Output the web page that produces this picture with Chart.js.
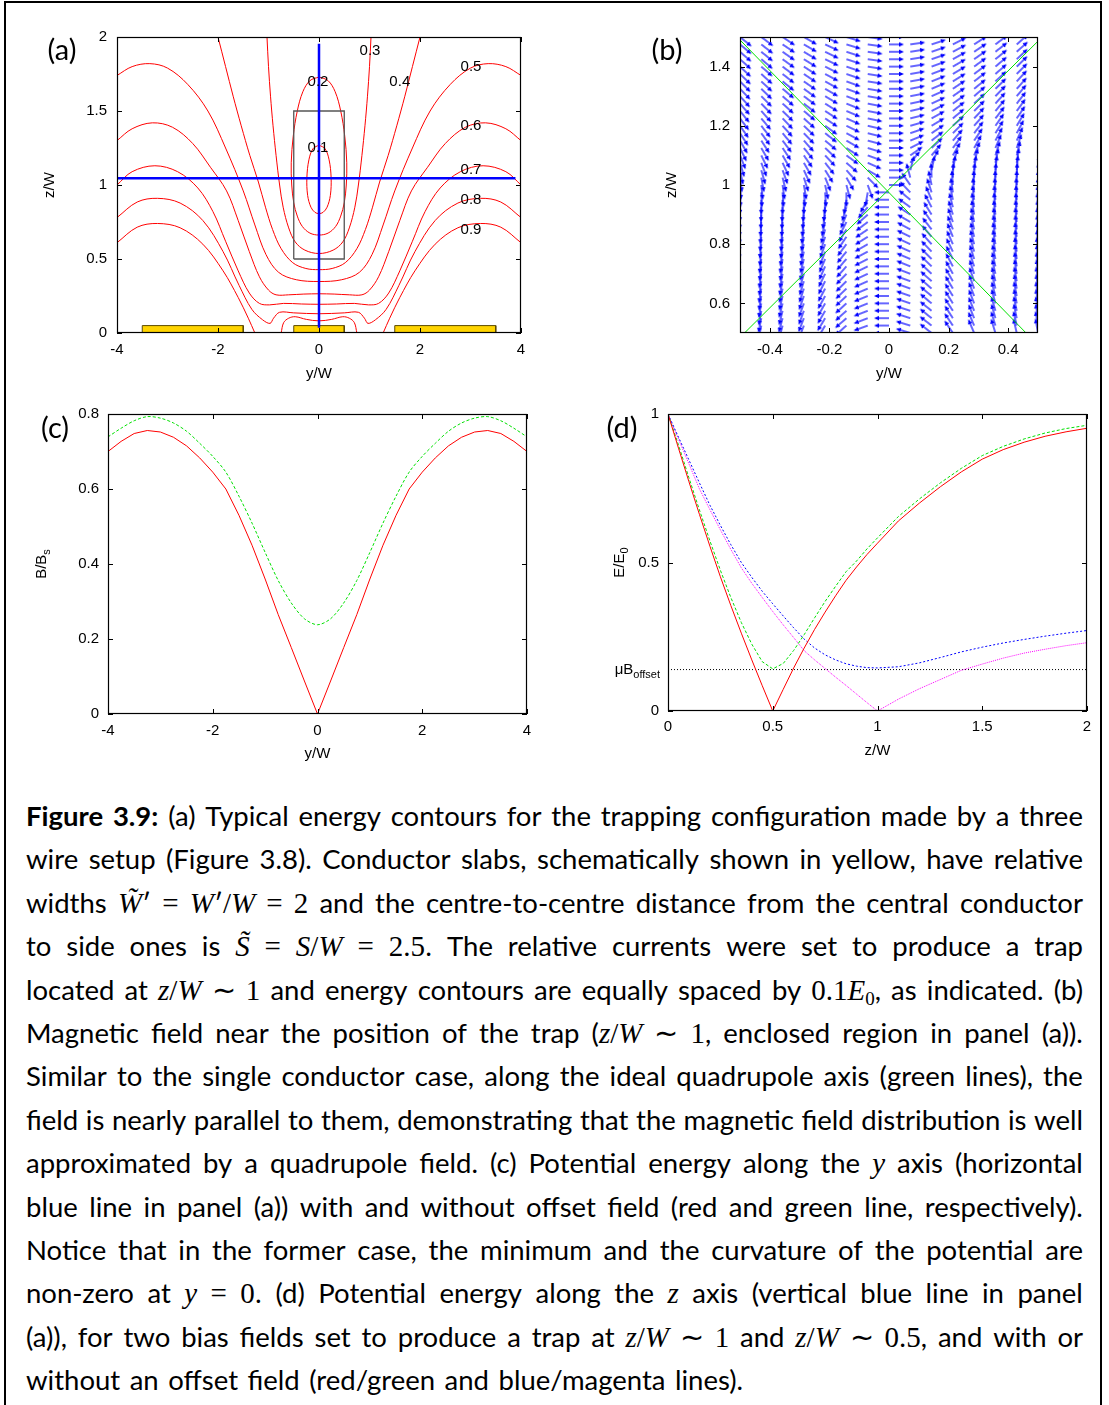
<!DOCTYPE html>
<html lang="en">
<head>
<meta charset="utf-8">
<title>Figure 3.9 – three wire trap</title>
<script src="https://cdn.jsdelivr.net/npm/chart.js@4.4.1/dist/chart.umd.min.js"></script>
<style>
  html, body { margin: 0; padding: 0; background: #fff; }
  body { position: relative; width: 1109px; height: 1405px; overflow: hidden; }
  #frame { position: absolute; left: 4px; top: 1px; width: 1098px; height: 1460px; border: 2px solid #000; box-sizing: border-box; }
  canvas { position: absolute; }
  #caption { position: absolute; left: 26px; top: 794px; width: 1057px; font-family: 'Lato', sans-serif; font-size: 27.5px; color: #000; }
  .ln { display: flex; justify-content: space-between; align-items: baseline; height: 43.4px; line-height: 43.4px; }
  .ln span.t { white-space: nowrap; }
  .ln.last { justify-content: flex-start; }
  .ln.last span.t { margin-right: 9.5px; }
  .m { font-family: 'Liberation Serif', serif; font-style: italic; font-size: 29px; }
  .r { font-family: 'Liberation Serif', serif; font-style: normal; font-size: 29px; }
  .sb { font-family: 'Liberation Serif', serif; font-size: 19px; position: relative; top: 5px; }
</style>
</head>
<body>
<div id="frame"></div>
<canvas id="pa"></canvas>
<canvas id="pb"></canvas>
<canvas id="pc"></canvas>
<canvas id="pd"></canvas>
<div id="caption"></div>
<script>
// ---------------- panel (a): energy contours, y/W vs z/W ----------------
const aTicksX = [-4, -2, 0, 2, 4];
const aTicksY = [0, 0.5, 1, 1.5, 2];
const contourNames = ['0.1', '0.2', '0.3', '0.4', '0.5', '0.6', '0.7', '0.8', '0.9'];
// each level: list of polylines of [y, z]
const cont01 = [[[0,1.27],[-0.12,1.245],[-0.2,1.17],[-0.24,1.05],[-0.225,0.93],[-0.16,0.85],[-0.08,0.815],[0,0.807],[0.08,0.815],[0.16,0.85],[0.225,0.93],[0.24,1.05],[0.2,1.17],[0.12,1.245],[0,1.27]]];
const cont02 = [[[0,1.73],[-0.18,1.705],[-0.32,1.63],[-0.43,1.5],[-0.51,1.33],[-0.55,1.15],[-0.54,1.0],[-0.5,0.88],[-0.43,0.79],[-0.33,0.72],[-0.18,0.675],[0,0.662],[0.18,0.675],[0.33,0.72],[0.43,0.79],[0.5,0.88],[0.54,1.0],[0.55,1.15],[0.51,1.33],[0.43,1.5],[0.32,1.63],[0.18,1.705],[0,1.73]]];
const cont03 = [[[-1.03,2.0],[-1.0,1.8],[-0.96,1.6],[-0.91,1.4],[-0.85,1.2],[-0.78,1.0],[-0.71,0.85],[-0.6,0.71],[-0.47,0.615],[-0.28,0.56],[0,0.537],[0.28,0.56],[0.47,0.615],[0.6,0.71],[0.71,0.85],[0.78,1.0],[0.85,1.2],[0.91,1.4],[0.96,1.6],[1.0,1.8],[1.03,2.0]]];
const cont04 = [[[-2.0,2.0],[-1.85,1.8],[-1.7,1.6],[-1.54,1.4],[-1.37,1.2],[-1.2,1.02],[-1.06,0.85],[-0.92,0.7],[-0.75,0.57],[-0.52,0.475],[-0.26,0.436],[0,0.428],[0.26,0.436],[0.52,0.475],[0.75,0.57],[0.92,0.7],[1.06,0.85],[1.2,1.02],[1.37,1.2],[1.54,1.4],[1.7,1.6],[1.85,1.8],[2.0,2.0]]];
const cont05 = [[[-4,1.74],[-3.7,1.8],[-3.35,1.82],[-3.0,1.79],[-2.6,1.68],[-2.2,1.5],[-1.85,1.25],[-1.5,0.96],[-1.27,0.73],[-1.05,0.53],[-0.8,0.41],[-0.45,0.36],[0,0.348],[0.45,0.36],[0.8,0.41],[1.05,0.53],[1.27,0.73],[1.5,0.96],[1.85,1.25],[2.2,1.5],[2.6,1.68],[3.0,1.79],[3.35,1.82],[3.7,1.8],[4,1.74]]];
const cont06 = [[[-4,1.30],[-3.7,1.38],[-3.3,1.42],[-2.9,1.39],[-2.5,1.28],[-2.15,1.12],[-1.83,0.96],[-1.6,0.76],[-1.38,0.55],[-1.18,0.38],[-1.0,0.29],[-0.85,0.258],[-0.6,0.258],[-0.3,0.263],[0,0.265],[0.3,0.263],[0.6,0.258],[0.85,0.258],[1.0,0.29],[1.18,0.38],[1.38,0.55],[1.6,0.76],[1.83,0.96],[2.15,1.12],[2.5,1.28],[2.9,1.39],[3.3,1.42],[3.7,1.38],[4,1.30]]];
const cont07 = [[[-4,1.0],[-3.7,1.09],[-3.25,1.13],[-2.8,1.09],[-2.4,0.98],[-2.1,0.82],[-1.85,0.62],[-1.6,0.42],[-1.38,0.27],[-1.18,0.2],[-0.98,0.19],[-0.7,0.2],[-0.35,0.196],[0,0.194],[0.35,0.196],[0.7,0.2],[0.98,0.19],[1.18,0.2],[1.38,0.27],[1.6,0.42],[1.85,0.62],[2.1,0.82],[2.4,0.98],[2.8,1.09],[3.25,1.13],[3.7,1.09],[4,1.0]]];
const cont08 = [[[-4,0.78],[-3.6,0.885],[-3.2,0.91],[-2.75,0.878],[-2.3,0.76],[-1.9,0.55],[-1.58,0.32],[-1.33,0.16],[-1.12,0.09],[-0.97,0.065],[-0.9,0.1],[-0.78,0.14],[-0.5,0.136],[0,0.13],[0.5,0.136],[0.78,0.14],[0.9,0.1],[0.97,0.065],[1.12,0.09],[1.33,0.16],[1.58,0.32],[1.9,0.55],[2.3,0.76],[2.75,0.878],[3.2,0.91],[3.6,0.885],[4,0.78]]];
const cont09 = [[[-4,0.61],[-3.6,0.715],[-3.2,0.74],[-2.75,0.711],[-2.3,0.6],[-1.9,0.42],[-1.6,0.24],[-1.4,0.1],[-1.27,0.0]],
                [[4,0.61],[3.6,0.715],[3.2,0.74],[2.75,0.711],[2.3,0.6],[1.9,0.42],[1.6,0.24],[1.4,0.1],[1.27,0.0]],
                [[-0.75,0.0],[-0.7,0.07],[-0.6,0.1],[-0.47,0.11],[-0.25,0.092],[0,0.082],[0.25,0.092],[0.47,0.11],[0.6,0.1],[0.7,0.07],[0.75,0.0]]];
const contours = [cont01, cont02, cont03, cont04, cont05, cont06, cont07, cont08, cont09];
// label anchor of each level, [y, z]
const contourLabelAt = [[-0.02,1.25],[-0.02,1.70],[1.01,1.906],[1.60,1.70],[3.01,1.80],[3.01,1.40],[3.01,1.10],[3.01,0.90],[3.01,0.70]];
// conductor slabs: [yFrom, yTo] with height slabH
const slabs = [[-3.5, -1.5], [-0.5, 0.5], [1.5, 3.5]];
const slabH = 0.05;
const zoomBox = [[-0.5,0.5],[-0.5,1.5],[0.5,1.5],[0.5,0.5],[-0.5,0.5]];
const cutH = [[-4, 1.045], [3.89, 1.045]];
const cutV = [[0, 0.035], [0, 1.955]];

// ---------------- panel (b): field directions near the trap ----------------
const bTicksX = [-0.4, -0.2, 0, 0.2, 0.4];
const bTicksY = [0.6, 0.8, 1, 1.2, 1.4];
const bColumnY = [-0.5,-0.4286,-0.3571,-0.2857,-0.2143,-0.1429,-0.0714,0,0.0714,0.1429,0.2143,0.2857,0.3571,0.4286,0.5];
const bRowZ = [0.5,0.525,0.55,0.575,0.6,0.625,0.65,0.675,0.7,0.725,0.75,0.775,0.8,0.825,0.85,0.875,0.9,0.925,0.95,0.975,
               1.0,1.025,1.05,1.075,1.1,1.125,1.15,1.175,1.2,1.225,1.25,1.275,1.3,1.325,1.35,1.375,1.4,1.425,1.45,1.475,1.5];
// arrow direction in degrees (counter-clockwise from +y) per column, bottom row first
const bAngles = [
  [-100,-100,-99,-99,-98,-98,-97,-97,-96,-96,-95,-95,-94,-94,-93,-93,-92,-91,-90,-88,-86,-82,-78,-73,-68,-64,-60,-57,-55,-53,-51,-49,-48,-46,-45,-44,-43,-42,-41,-40,-39],
  [-102,-101,-101,-100,-100,-99,-99,-98,-98,-97,-97,-96,-96,-95,-94,-93,-92,-91,-90,-87,-84,-79,-74,-69,-64,-60,-57,-54,-52,-50,-48,-46,-45,-44,-43,-42,-41,-40,-39,-38,-37],
  [-106,-105,-105,-104,-104,-103,-103,-102,-101,-100,-100,-99,-98,-97,-96,-94,-93,-92,-90,-86,-82,-76,-70,-65,-60,-56,-53,-50,-48,-46,-44,-42,-41,-40,-39,-38,-37,-36,-35,-34,-34],
  [-112,-111,-111,-110,-110,-109,-108,-107,-106,-105,-104,-103,-102,-100,-99,-97,-95,-93,-90,-85,-80,-72,-65,-60,-55,-51,-48,-46,-44,-42,-40,-38,-37,-36,-35,-34,-33,-32,-31,-30,-30],
  [-122,-121,-121,-120,-120,-119,-118,-117,-116,-114,-113,-111,-110,-108,-106,-103,-100,-96,-92,-86,-78,-68,-58,-52,-47,-43,-40,-38,-36,-34,-33,-32,-31,-30,-29,-28,-27,-26,-26,-25,-25],
  [-140,-139,-139,-138,-138,-137,-136,-135,-134,-132,-131,-129,-127,-124,-121,-117,-112,-107,-100,-90,-75,-60,-48,-41,-36,-33,-30,-28,-26,-24,-23,-22,-21,-20,-20,-19,-19,-18,-18,-17,-17],
  [-160,-160,-159,-159,-158,-158,-157,-156,-155,-154,-153,-152,-150,-148,-146,-143,-138,-131,-120,-100,-70,-45,-30,-24,-20,-17,-15,-14,-13,-12,-11,-11,-10,-10,-9,-9,-9,-8,-8,-8,-8],
  [180,180,180,180,180,180,180,180,180,180,180,180,180,180,180,180,180,180,180,180,0,0,0,0,0,0,0,0,0,0,0,0,0,0,0,0,0,0,0,0,0],
  [163,163,162,162,161,161,160,160,159,158,157,156,155,154,152,150,147,144,140,134,125,105,75,50,35,27,22,19,16,14,13,12,11,11,10,10,9,9,9,8,8],
  [142,142,141,141,140,140,139,138,137,136,135,134,132,130,128,125,122,118,113,108,102,92,78,62,50,43,38,34,31,29,27,25,24,23,22,21,20,19,19,18,18],
  [124,124,123,123,122,122,121,120,119,118,117,116,114,112,111,109,107,104,101,98,94,88,80,70,60,54,49,45,42,40,38,36,35,34,32,31,30,29,28,27,27],
  [113,113,112,112,111,111,110,109,108,108,107,106,105,104,103,102,100,99,97,95,92,88,82,75,67,61,56,52,49,47,45,43,41,39,38,37,36,35,34,33,32],
  [107,107,106,106,105,105,104,104,103,103,102,101,100,100,99,98,97,96,95,93,91,88,84,78,72,67,62,58,55,52,50,48,46,44,43,41,40,39,38,37,36],
  [103,103,102,102,101,101,100,100,99,99,98,98,97,97,96,96,95,94,93,92,90,88,85,81,76,71,66,62,59,56,54,52,50,48,47,45,44,43,42,41,40],
  [100,100,99,99,98,98,97,97,96,96,95,95,94,94,93,93,92,92,91,90,89,87,85,82,78,73,69,65,62,59,57,55,53,51,50,48,47,46,45,44,43]
];
const axisDown = [[-0.5, 1.49], [0.46, 0.5]];
const axisUp = [[-0.485, 0.5], [0.5, 1.486]];

// ---------------- panel (c): B/Bs along y ----------------
const cTicksX = [-4, -2, 0, 2, 4];
const cTicksY = [0, 0.2, 0.4, 0.6, 0.8];
const cY = [-4,-3.75,-3.5,-3.25,-3,-2.75,-2.5,-2.25,-2,-1.75,-1.5,-1.25,-1,-0.75,-0.5,-0.25,0,0.25,0.5,0.75,1,1.25,1.5,1.75,2,2.25,2.5,2.75,3,3.25,3.5,3.75,4];
const cNoOffset = [0.700,0.727,0.748,0.756,0.752,0.738,0.715,0.683,0.645,0.600,0.530,0.450,0.360,0.265,0.177,0.088,0,0.088,0.177,0.265,0.360,0.450,0.530,0.600,0.645,0.683,0.715,0.738,0.752,0.756,0.748,0.727,0.700];
const cWithOffset = [0.739,0.762,0.782,0.793,0.789,0.776,0.754,0.722,0.687,0.645,0.581,0.509,0.431,0.356,0.296,0.254,0.238,0.254,0.296,0.356,0.431,0.509,0.581,0.645,0.687,0.722,0.754,0.776,0.789,0.793,0.782,0.762,0.739];

// ---------------- panel (d): E/E0 along z ----------------
const dTicksX = [0, 0.5, 1, 1.5, 2];
const dTicksY = [0, 0.5, 1];
const dOffsetLevel = 0.1395;
const dZ = [0,0.05,0.1,0.15,0.2,0.25,0.3,0.35,0.4,0.45,0.5,0.55,0.6,0.65,0.7,0.75,0.8,0.85,0.9,0.95,1.0,1.1,1.2,1.3,1.4,1.5,1.6,1.7,1.8,1.9,2.0];
const dHalfNoOffset = [1.0,0.885,0.772,0.662,0.555,0.452,0.355,0.262,0.172,0.085,0.0,0.073,0.145,0.212,0.275,0.333,0.388,0.44,0.485,0.527,0.565,0.64,0.70,0.755,0.805,0.848,0.88,0.905,0.925,0.94,0.952];
const dHalfOffset = [1.0,0.896,0.785,0.677,0.573,0.474,0.382,0.298,0.225,0.166,0.142,0.16,0.204,0.257,0.314,0.369,0.42,0.469,0.505,0.546,0.583,0.655,0.714,0.768,0.817,0.86,0.891,0.916,0.936,0.951,0.962];
const dOneOffset = [1.0,0.922,0.845,0.768,0.693,0.625,0.56,0.50,0.45,0.403,0.361,0.32,0.28,0.242,0.212,0.189,0.172,0.159,0.151,0.146,0.145,0.149,0.162,0.18,0.199,0.215,0.229,0.241,0.252,0.262,0.271];
const dOneNoOffset = [1.0,0.915,0.832,0.748,0.678,0.61,0.544,0.482,0.43,0.382,0.335,0.29,0.247,0.203,0.172,0.143,0.114,0.086,0.057,0.028,0.0,0.04,0.075,0.106,0.137,0.158,0.178,0.195,0.208,0.22,0.23];

// ---------------- caption ----------------
const captionLines = [
  '<b>Figure</b> <b>3.9:</b> (a) Typical energy contours for the trapping configuration made by a three',
  'wire setup (Figure 3.8). Conductor slabs, schematically shown in yellow, have relative',
  'widths ‹W̃›′ «=» ‹W›′«/»‹W› «=» «2» and the centre-to-centre distance from the central conductor',
  'to side ones is ‹S̃› «=» ‹S›«/»‹W› «=» «2.5.» The relative currents were set to produce a trap',
  'located at ‹z›«/»‹W› «∼» «1» and energy contours are equally spaced by «0.1»‹E›{0}, as indicated. (b)',
  'Magnetic field near the position of the trap (‹z›«/»‹W› «∼» «1», enclosed region in panel (a)).',
  'Similar to the single conductor case, along the ideal quadrupole axis (green lines), the',
  'field is nearly parallel to them, demonstrating that the magnetic field distribution is well',
  'approximated by a quadrupole field. (c) Potential energy along the ‹y› axis (horizontal',
  'blue line in panel (a)) with and without offset field (red and green line, respectively).',
  'Notice that in the former case, the minimum and the curvature of the potential are',
  'non-zero at ‹y› «=» «0.» (d) Potential energy along the ‹z› axis (vertical blue line in panel',
  '(a)), for two bias fields set to produce a trap at ‹z›«/»‹W› «∼» «1» and ‹z›«/»‹W› «∼» «0.5», and with or',
  'without an offset field (red/green and blue/magenta lines).'
];

// ======================================================================
const FONT = 'Liberation Sans, Arial, sans-serif';
const pts = arr => arr.map(p => ({ x: p[0], y: p[1] }));
const fmt = v => String(+(+v).toFixed(3));

function lineSet(data, color, extra) {
  return Object.assign({ type: 'scatter', data, showLine: true, borderColor: color, backgroundColor: color,
    borderWidth: 1, pointRadius: 0, tension: 0, fill: false }, extra || {});
}

// frame, inward mirror ticks and all axis text of one panel
function framePlugin(spec) {
  return {
    id: 'frame_' + spec.id,
    afterDraw(chart) {
      const ctx = chart.ctx, a = chart.chartArea;
      const xs = chart.scales.x, ys = chart.scales.y;
      ctx.save();
      ctx.strokeStyle = '#000'; ctx.lineWidth = 1;
      ctx.beginPath();
      spec.xTicks.forEach(v => {
        const p = Math.round(xs.getPixelForValue(v)) + 0.5;
        ctx.moveTo(p, a.bottom); ctx.lineTo(p, a.bottom - 5);
        ctx.moveTo(p, a.top); ctx.lineTo(p, a.top + 5);
      });
      spec.yTicks.forEach(v => {
        const p = Math.round(ys.getPixelForValue(v)) + 0.5;
        ctx.moveTo(a.left, p); ctx.lineTo(a.left + 5, p);
        ctx.moveTo(a.right, p); ctx.lineTo(a.right - 5, p);
      });
      ctx.stroke();
      ctx.lineWidth = 1.2;
      ctx.strokeRect(a.left + 0.5, a.top + 0.5, a.right - a.left - 1, a.bottom - a.top - 1);

      ctx.fillStyle = '#000';
      ctx.textAlign = 'center'; ctx.textBaseline = 'middle';
      ctx.font = '15px ' + FONT;
      ctx.fillText(spec.xTitle, (a.left + a.right) / 2, a.bottom + spec.xTitleDy);
      ctx.save();
      ctx.translate(a.left + spec.yTitleDx, (a.top + a.bottom) / 2);
      ctx.rotate(-Math.PI / 2);
      const main = spec.yTitle[0], sub = spec.yTitle[1] || '';
      ctx.font = '15px ' + FONT;
      const wMain = ctx.measureText(main).width;
      ctx.font = '11px ' + FONT;
      const wSub = ctx.measureText(sub).width;
      const x0 = -(wMain + wSub) / 2;
      ctx.textAlign = 'left';
      ctx.font = '15px ' + FONT;
      ctx.fillText(main, x0, 0);
      if (sub) { ctx.font = '11px ' + FONT; ctx.fillText(sub, x0 + wMain, 5); }
      ctx.restore();
      ctx.font = '29px Lato, sans-serif';
      ctx.textAlign = 'center';
      ctx.fillText(spec.letter, a.left + spec.letterAt[0], a.top + spec.letterAt[1]);
      if (spec.extra) spec.extra(chart, ctx, a, xs, ys);
      ctx.restore();
    }
  };
}

function panel(spec) {
  const ML = 100, MT = 16, MR = 16, MB = 58;
  const cv = document.getElementById(spec.id);
  const w = spec.box.r - spec.box.l, h = spec.box.b - spec.box.t;
  cv.width = w + ML + MR; cv.height = h + MT + MB;
  cv.style.width = cv.width + 'px'; cv.style.height = cv.height + 'px';
  cv.style.left = (spec.box.l - ML) + 'px'; cv.style.top = (spec.box.t - MT) + 'px';
  const tickFont = { family: FONT, size: 15 };
  return new Chart(cv, {
    type: 'scatter',
    data: { datasets: spec.datasets },
    options: {
      responsive: false, animation: false, events: [],
      layout: { padding: { left: 0, top: MT, right: MR, bottom: 0 } },
      plugins: { legend: { display: false }, tooltip: { enabled: false } },
      scales: {
        x: { type: 'linear', min: spec.xRange[0], max: spec.xRange[1],
             grid: { display: false, drawTicks: false }, border: { display: false },
             afterFit: s => { s.height = MB; },
             afterBuildTicks: s => { s.ticks = spec.xTicks.map(v => ({ value: v })); },
             ticks: { padding: spec.xPad, font: tickFont, color: '#000', maxRotation: 0, autoSkip: false, callback: fmt } },
        y: { type: 'linear', min: spec.yRange[0], max: spec.yRange[1],
             grid: { display: false, drawTicks: false }, border: { display: false },
             afterFit: s => { s.width = ML; },
             afterBuildTicks: s => { s.ticks = spec.yTicks.map(v => ({ value: v })); },
             ticks: { padding: spec.yPad, font: tickFont, color: '#000', autoSkip: false, callback: fmt } }
      }
    },
    plugins: [framePlugin(spec)]
  });
}

// ---- panel (a)
const aSets = [];
contours.forEach(level => level.forEach(branch =>
  aSets.push(lineSet(pts(branch), '#ff0000', { tension: 0.35, order: 5 }))));
slabs.forEach(s => aSets.push(lineSet(pts([[s[0], 0], [s[0], slabH], [s[1], slabH], [s[1], 0]]), '#5b4a00',
  { fill: 'origin', backgroundColor: '#ffd400', order: 3 })));
aSets.push(lineSet(pts(zoomBox), '#555555', { borderWidth: 1.3, order: 2 }));
aSets.push(lineSet(pts(cutH), '#0000ff', { borderWidth: 2.5, order: 1 }));
aSets.push(lineSet(pts(cutV), '#0000ff', { borderWidth: 2.5, order: 1 }));

panel({
  id: 'pa', box: { l: 117, t: 34, r: 521, b: 333 },
  xRange: [-4, 4], yRange: [0, 2], xTicks: aTicksX, yTicks: aTicksY, xPad: 8, yPad: 10,
  xTitle: 'y/W', xTitleDy: 41, yTitle: ['z/W'], yTitleDx: -67, letter: '(a)', letterAt: [-55, 14],
  datasets: aSets,
  extra: (chart, ctx, a, xs, ys) => {
    ctx.font = '15px ' + FONT; ctx.textAlign = 'center'; ctx.textBaseline = 'middle';
    contourNames.forEach((t, i) => ctx.fillText(t, xs.getPixelForValue(contourLabelAt[i][0]), ys.getPixelForValue(contourLabelAt[i][1])));
  }
});

// ---- panel (b)
function arrowSprite(len, color) {
  const c = document.createElement('canvas');
  const s = 2 * len + 8; c.width = s; c.height = s;
  const g = c.getContext('2d'), m = s / 2;
  g.strokeStyle = color; g.fillStyle = color; g.lineWidth = 1.2;
  g.beginPath(); g.moveTo(m, m); g.lineTo(m + len - 3, m); g.stroke();
  g.beginPath(); g.moveTo(m + len, m); g.lineTo(m + len - 5, m - 2.3); g.lineTo(m + len - 5, m + 2.3); g.closePath(); g.fill();
  return c;
}
const arrowImg = arrowSprite(15, '#0000ff');
const arrows = [];
bColumnY.forEach((y, k) => bRowZ.forEach((z, j) => arrows.push({ x: y, y: z, a: bAngles[k][j] })));

panel({
  id: 'pb', box: { l: 740, t: 34, r: 1038, b: 333 },
  xRange: [-0.5, 0.5], yRange: [0.5, 1.5], xTicks: bTicksX, yTicks: bTicksY, xPad: 8, yPad: 10,
  xTitle: 'y/W', xTitleDy: 41, yTitle: ['z/W'], yTitleDx: -68, letter: '(b)', letterAt: [-73, 14],
  datasets: [
    lineSet(pts(axisDown), '#00e000', { order: 0 }),
    lineSet(pts(axisUp), '#00e000', { order: 0 }),
    { type: 'scatter', data: arrows, pointStyle: arrowImg, pointRadius: 2, clip: 0,
      rotation: c => -(c.raw ? c.raw.a : 0), order: 1 }
  ]
});

// ---- panel (c)
panel({
  id: 'pc', box: { l: 108, t: 412, r: 527, b: 714 },
  xRange: [-4, 4], yRange: [0, 0.8], xTicks: cTicksX, yTicks: cTicksY, xPad: 8, yPad: 9,
  xTitle: 'y/W', xTitleDy: 40, yTitle: ['B/B', 's'], yTitleDx: -66, letter: '(c)', letterAt: [-53, 15],
  datasets: [
    lineSet(cY.map((x, i) => ({ x, y: cNoOffset[i] })), '#ff0000'),
    lineSet(cY.map((x, i) => ({ x, y: cWithOffset[i] })), '#00e000', { borderDash: [3, 2], tension: 0.3 })
  ]
});

// ---- panel (d)
panel({
  id: 'pd', box: { l: 668, t: 412, r: 1087, b: 711 },
  xRange: [0, 2], yRange: [0, 1], xTicks: dTicksX, yTicks: dTicksY, xPad: 7, yPad: 9,
  xTitle: 'z/W', xTitleDy: 40, yTitle: ['E/E', '0'], yTitleDx: -48, letter: '(d)', letterAt: [-46, 15],
  datasets: [
    lineSet(dZ.map((x, i) => ({ x, y: dHalfNoOffset[i] })), '#ff0000', { order: 1 }),
    lineSet(dZ.map((x, i) => ({ x, y: dHalfOffset[i] })), '#00e000', { borderDash: [3, 2], order: 2 }),
    lineSet(dZ.map((x, i) => ({ x, y: dOneOffset[i] })), '#0000ff', { borderDash: [2, 2], order: 3 }),
    lineSet(dZ.map((x, i) => ({ x, y: dOneNoOffset[i] })), '#ff00ff', { borderDash: [1, 1], order: 4 }),
    lineSet([{ x: 0, y: dOffsetLevel }, { x: 2, y: dOffsetLevel }], '#000000', { borderDash: [1, 2], order: 5 })
  ],
  extra: (chart, ctx, a, xs, ys) => {
    const y = ys.getPixelForValue(dOffsetLevel);
    ctx.textBaseline = 'middle'; ctx.textAlign = 'left';
    ctx.font = '11px ' + FONT;
    const ws = ctx.measureText('offset').width;
    ctx.font = '15px ' + FONT;
    const wm = ctx.measureText('\u03bcB').width;
    const x0 = a.left - 8 - ws - wm;
    ctx.fillText('\u03bcB', x0, y);
    ctx.font = '11px ' + FONT;
    ctx.fillText('offset', x0 + wm, y + 5);
  }
});

// ---- caption
const cap = document.getElementById('caption');
captionLines.forEach((line, i) => {
  const div = document.createElement('div');
  div.className = 'ln' + (i === captionLines.length - 1 ? ' last' : '');
  line.split(' ').forEach(tok => {
    const s = document.createElement('span');
    s.className = 't';
    s.innerHTML = tok.replace(/‹(.+?)›/g, '<span class="m">$1</span>')
                     .replace(/«(.+?)»/g, '<span class="r">$1</span>')
                     .replace(/\{(.+?)\}/g, '<span class="sb">$1</span>');
    div.appendChild(s);
  });
  cap.appendChild(div);
});
</script>
</body>
</html>
